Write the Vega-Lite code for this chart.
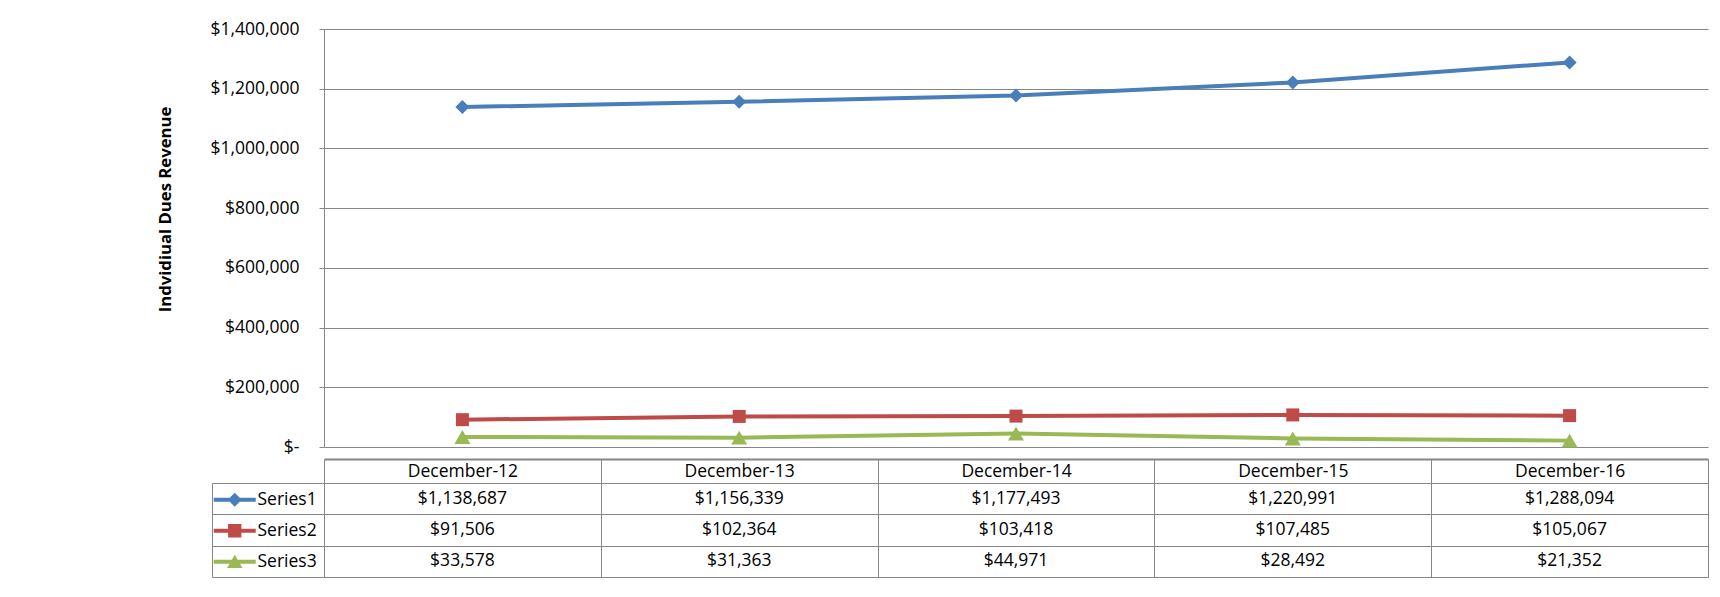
{
  "$schema": "https://vega.github.io/schema/vega-lite/v6.json",
  "background": "white",
  "padding": {"left": 157, "top": 20, "right": 5, "bottom": 10},
  "bounds": "flush",
  "spacing": 36,
  "config": {
    "font": "Open Sans",
    "view": {"stroke": null},
    "axis": {"labelFont": "Open Sans", "titleFont": "Open Sans", "labelColor": "black", "titleColor": "black"},
    "legend": {"labelFont": "Open Sans"}
  },
  "datasets": {
    "revenue": [
      {"month": "December-12", "series": "Series1", "value": 1138687},
      {"month": "December-13", "series": "Series1", "value": 1156339},
      {"month": "December-14", "series": "Series1", "value": 1177493},
      {"month": "December-15", "series": "Series1", "value": 1220991},
      {"month": "December-16", "series": "Series1", "value": 1288094},
      {"month": "December-12", "series": "Series2", "value": 91506},
      {"month": "December-13", "series": "Series2", "value": 102364},
      {"month": "December-14", "series": "Series2", "value": 103418},
      {"month": "December-15", "series": "Series2", "value": 107485},
      {"month": "December-16", "series": "Series2", "value": 105067},
      {"month": "December-12", "series": "Series3", "value": 33578},
      {"month": "December-13", "series": "Series3", "value": 31363},
      {"month": "December-14", "series": "Series3", "value": 44971},
      {"month": "December-15", "series": "Series3", "value": 28492},
      {"month": "December-16", "series": "Series3", "value": 21352}
    ]
  },
  "vconcat": [
    {
      "width": 1384,
      "height": 418,
      "data": {"name": "revenue"},
      "encoding": {
        "x": {"field": "month", "type": "ordinal", "scale": {"type": "point", "padding": 0.5}, "axis": null},
        "y": {
          "field": "value", "type": "quantitative",
          "scale": {"domain": [0, 1400000], "nice": false},
          "axis": {
            "values": [0, 200000, 400000, 600000, 800000, 1000000, 1200000, 1400000],
            "labelExpr": "datum.value == 0 ? '$-\u00a0\u00a0\u00a0' : format(datum.value, '$,')",
            "labelFontSize": 17.5,
            "labelPadding": 20,
            "tickSize": 5,
            "tickColor": "#868686",
            "domainColor": "#868686",
            "gridColor": "#868686",
            "grid": true,
            "title": "Indvidiual Dues Revenue",
            "titleFontSize": 16.7,
            "titleFontWeight": "bold",
            "titlePadding": 35,
            "titleY": 180
          }
        }
      },
      "layer": [
        {
          "mark": {"type": "line", "strokeWidth": 4},
          "encoding": {
            "color": {
              "field": "series", "type": "nominal",
              "scale": {"domain": ["Series1", "Series2", "Series3"], "range": ["#4A7EBB", "#BE4B48", "#98B954"]},
              "legend": {
                "orient": "none",
                "legendX": -98,
                "legendY": 462,
                "title": null,
                "padding": 0,
                "symbolSize": 196,
                "symbolStrokeWidth": 0,
                "labelFontSize": 17.5,
                "labelColor": "black",
                "labelOffset": 14,
                "rowPadding": 12,
                "encode": {
                  "symbols": {
                    "update": {
                      "shape": {"signal": "datum.value == 'Series1' ? 'M-3,-0.29L3,-0.29L3,0.29L-3,0.29Z M0,-1L1,0L0,1L-1,0Z' : datum.value == 'Series2' ? 'M-3,-0.29L3,-0.29L3,0.29L-3,0.29Z M-0.95,-0.95L0.95,-0.95L0.95,0.95L-0.95,0.95Z' : 'M-3,-0.29L3,-0.29L3,0.29L-3,0.29Z M0,-1L1.1,0.9L-1.1,0.9Z'"},
                      "fill": {"signal": "datum.value == 'Series1' ? '#4A7EBB' : datum.value == 'Series2' ? '#BE4B48' : '#98B954'"},
                      "strokeWidth": {"value": 0},
                      "opacity": {"value": 1}
                    }
                  }
                }
              }
            }
          }
        },
        {
          "transform": [{"filter": "datum.series == 'Series1'"}],
          "mark": {"type": "point", "filled": true, "opacity": 1, "shape": "diamond", "size": 196, "color": "#4A7EBB"}
        },
        {
          "transform": [{"filter": "datum.series == 'Series2'"}],
          "mark": {"type": "point", "filled": true, "opacity": 1, "shape": "square", "size": 169, "color": "#BE4B48"}
        },
        {
          "transform": [{"filter": "datum.series == 'Series3'"}],
          "mark": {"type": "point", "filled": true, "opacity": 1, "shape": "triangle-up", "size": 256, "color": "#98B954"}
        }
      ]
    },
    {
      "width": 1384,
      "height": 94,
      "view": {"stroke": "#868686", "strokeWidth": 1},
      "data": {"name": "revenue"},
      "mark": {"type": "text", "fontSize": 17.5, "font": "Open Sans", "color": "black"},
      "encoding": {
        "x": {
          "field": "month", "type": "ordinal",
          "scale": {"type": "band", "paddingInner": 0, "paddingOuter": 0},
          "axis": {
            "orient": "top",
            "title": null,
            "offset": 24,
            "tickSize": -24,
            "tickBand": "extent",
            "tickColor": "#868686",
            "domainColor": "#868686",
            "domainWidth": 2,
            "grid": true,
            "gridColor": "#868686",
            "labelAngle": 0,
            "labelFontSize": 17.5,
            "labelPadding": 12,
            "labelBaseline": "middle"
          }
        },
        "y": {
          "field": "series", "type": "nominal",
          "scale": {"type": "band", "paddingInner": 0, "paddingOuter": 0, "domain": ["Series1", "Series2", "Series3"]},
          "axis": {
            "orient": "left",
            "title": null,
            "offset": 112,
            "tickSize": -112,
            "tickBand": "extent",
            "tickColor": "#868686",
            "domainColor": "#868686",
            "grid": true,
            "gridColor": "#868686",
            "labels": false
          }
        },
        "text": {"field": "value", "type": "quantitative", "format": "$,"}
      }
    }
  ]
}
